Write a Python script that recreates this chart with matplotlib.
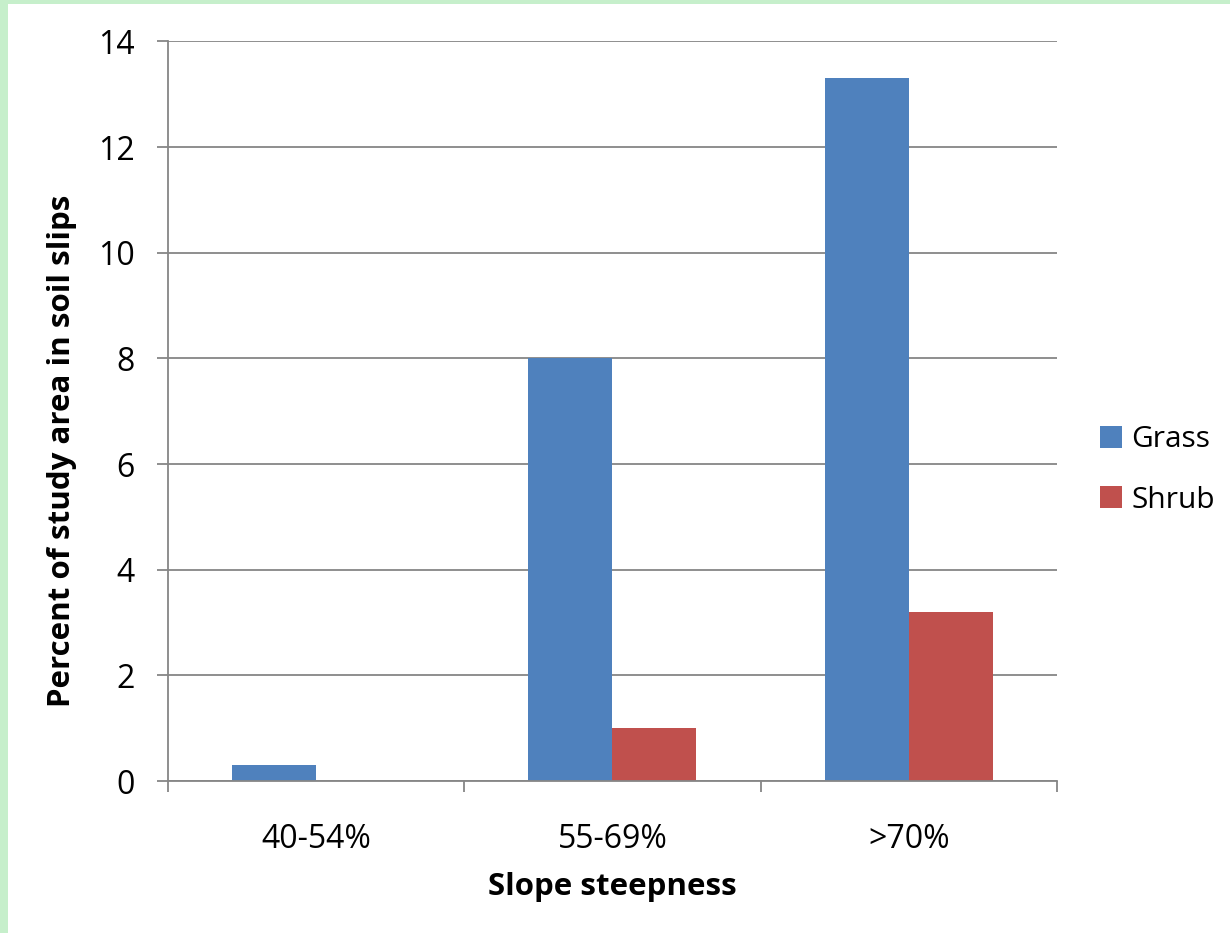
import matplotlib
matplotlib.use("Agg")
import matplotlib.pyplot as plt
from matplotlib.patches import Rectangle
import numpy as np

categories = ["40-54%", "55-69%", ">70%"]
grass = [0.3, 8.0, 13.3]
shrub = [0.0, 1.0, 3.2]
yticks = [0, 2, 4, 6, 8, 10, 12, 14]

plt.rcParams["font.family"] = ["Open Sans", "DejaVu Sans"]

fig = plt.figure(figsize=(12.3, 9.33), dpi=100)
ax = fig.add_axes([0.1366, 0.1629, 0.7227, 0.7927])

# green frame on left and top edge
fig.add_artist(Rectangle((0, 0), 8 / 1230, 1, transform=fig.transFigure, color="#c6efcb", lw=0))
fig.add_artist(Rectangle((0, 1 - 4 / 933), 1, 4 / 933, transform=fig.transFigure, color="#c6efcb", lw=0))

x = np.arange(len(categories))
w = 0.2835
ax.bar(x - w / 2, grass, w, color="#4f81bd", label="Grass", zorder=3)
ax.bar(x + w / 2, shrub, w, color="#c0504d", label="Shrub", zorder=3)

ax.set_xlim(-0.5, len(categories) - 0.5)
ax.set_ylim(0, 14)
ax.set_yticks(yticks)
ax.set_yticklabels([str(v) for v in yticks], fontsize=23)
ax.set_xticks(x)
ax.set_xticklabels(categories, fontsize=23)
ax.set_xticks(np.arange(len(categories) + 1) - 0.5, minor=True)
ax.tick_params(axis="x", which="major", length=0, pad=30)
ax.tick_params(axis="x", which="minor", length=8, width=1.3, color="#868686")
ax.tick_params(axis="y", length=8, width=1.3, color="#868686", pad=16)

ax.grid(axis="y", color="#868686", lw=1.3, zorder=0)
for s in ["top", "right"]:
    ax.spines[s].set_visible(False)
for s in ["left", "bottom"]:
    ax.spines[s].set_color("#868686")
    ax.spines[s].set_linewidth(1.3)
ax.spines["bottom"].set_zorder(4)

ax.set_xlabel("Slope steepness", fontsize=22.5, fontweight="bold", labelpad=12)
ax.set_ylabel("Percent of study area in soil slips", fontsize=22.5, fontweight="bold",
              labelpad=15, y=0.447)

leg = fig.legend(loc="center left", bbox_to_anchor=(1100 / 1230, 1 - 470 / 933), frameon=False,
                 fontsize=21.5, handlelength=0.75, handleheight=0.75, handletextpad=0.3,
                 labelspacing=1.05, borderpad=0, borderaxespad=0)

fig.savefig("out.png", dpi=100)
